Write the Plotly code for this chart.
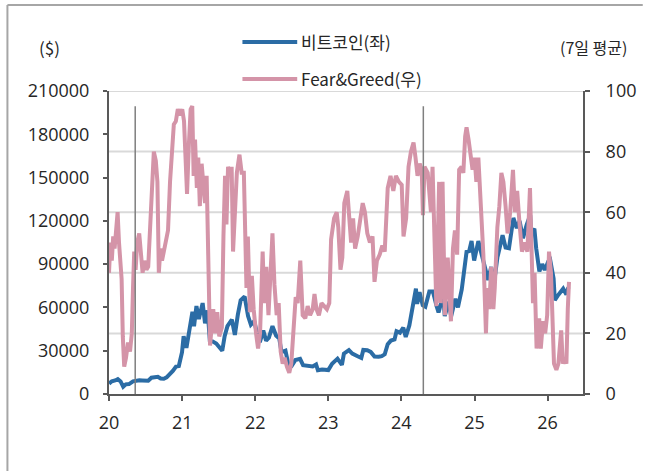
import plotly.graph_objects as go

# ---------------- data ----------------
btc_dates = [
    "2020-01-01", "2020-01-15", "2020-02-01", "2020-02-14", "2020-02-28", "2020-03-12", "2020-03-25",
    "2020-04-10", "2020-04-30", "2020-05-15", "2020-06-01", "2020-06-15", "2020-07-01", "2020-07-15",
    "2020-07-31", "2020-08-15", "2020-09-01", "2020-09-15", "2020-10-01", "2020-10-15", "2020-11-01",
    "2020-11-15", "2020-12-01", "2020-12-15", "2020-12-31", "2021-01-08", "2021-01-22", "2021-02-08",
    "2021-02-21", "2021-03-01", "2021-03-13", "2021-03-25", "2021-04-13", "2021-04-25", "2021-05-08",
    "2021-05-19", "2021-06-01", "2021-06-20", "2021-07-01", "2021-07-20", "2021-08-01", "2021-08-15",
    "2021-09-06", "2021-09-21", "2021-10-06", "2021-10-20", "2021-11-09", "2021-11-26", "2021-12-10",
    "2021-12-27", "2022-01-10", "2022-01-24", "2022-02-10", "2022-02-24", "2022-03-10", "2022-03-28",
    "2022-04-15", "2022-05-01", "2022-05-12", "2022-06-01", "2022-06-18", "2022-07-01", "2022-07-20",
    "2022-08-13", "2022-08-28", "2022-09-15", "2022-10-01", "2022-10-15", "2022-11-01", "2022-11-10",
    "2022-12-01", "2022-12-20", "2023-01-01", "2023-01-20", "2023-02-16", "2023-03-10", "2023-03-20",
    "2023-04-14", "2023-05-01", "2023-05-25", "2023-06-15", "2023-06-25", "2023-07-15", "2023-08-01",
    "2023-08-20", "2023-09-10", "2023-09-25", "2023-10-10", "2023-10-25", "2023-11-10", "2023-11-28",
    "2023-12-08", "2023-12-25", "2024-01-11", "2024-01-23", "2024-02-10", "2024-02-28", "2024-03-14",
    "2024-03-20", "2024-04-01", "2024-04-17", "2024-04-30", "2024-05-20", "2024-06-07", "2024-06-25",
    "2024-07-05", "2024-07-29", "2024-08-05", "2024-08-25", "2024-09-06", "2024-09-27", "2024-10-10",
    "2024-10-29", "2024-11-12", "2024-11-22", "2024-12-05", "2024-12-17", "2024-12-30", "2025-01-20",
    "2025-02-05", "2025-02-27", "2025-03-10", "2025-03-25", "2025-04-08", "2025-04-25", "2025-05-21",
    "2025-06-05", "2025-06-22", "2025-07-14", "2025-07-31", "2025-08-14", "2025-08-31", "2025-09-18",
    "2025-10-06", "2025-10-11", "2025-10-27", "2025-11-05", "2025-11-21", "2025-12-05", "2025-12-18",
    "2026-01-05", "2026-01-14", "2026-01-31", "2026-02-06", "2026-02-20", "2026-03-05", "2026-03-20",
    "2026-04-05", "2026-04-15",
]
btc_values = [
    7200, 8800, 9400, 10300, 8700, 5000, 6700,
    6900, 8800, 9400, 9500, 9400, 9200, 9200,
    11300, 11800, 11900, 10700, 10600, 11500, 13700,
    16000, 19000, 19400, 29000, 40000, 32000, 46000,
    57000, 47000, 61000, 52000, 63000, 49000, 58000,
    37000, 36500, 35000, 33500, 30000, 40000, 47000,
    51500, 41000, 55000, 65000, 67500, 54000, 48000,
    50500, 42000, 36000, 44000, 37000, 39000, 47000,
    40500, 38500, 29000, 30000, 19000, 19300, 23500,
    24400, 20000, 19700, 19300, 19100, 20500, 16500,
    17000, 16800, 16600, 21000, 24500, 20200, 28000,
    30400, 28000, 26300, 25000, 30500, 30300, 29200,
    26000, 25800, 26200, 27500, 34500, 37000, 37800,
    43500, 42500, 46000, 39500, 47500, 62500, 73000,
    62500, 70500, 61500, 60500, 71000, 71000, 61000,
    56500, 68500, 54000, 64000, 53900, 66000, 60000,
    72500, 88000, 98500, 99000, 106000, 92500, 106000,
    97000, 84000, 79000, 88000, 76500, 94500, 110000,
    101500, 101000, 122000, 115000, 120000, 108000, 117000,
    124000, 112000, 114500, 101000, 85000, 90000, 86000,
    92000, 93000, 80000, 65000, 68000, 70000, 73000,
    69000, 74000,
]

fg_dates = [
    "2020-01-01", "2020-01-08", "2020-01-15", "2020-01-22", "2020-01-29", "2020-02-05", "2020-02-13",
    "2020-02-20", "2020-02-27", "2020-03-04", "2020-03-10", "2020-03-17", "2020-03-26", "2020-04-05",
    "2020-04-15", "2020-04-24", "2020-04-30", "2020-05-06", "2020-05-13", "2020-05-21", "2020-05-31",
    "2020-06-08", "2020-06-17", "2020-06-26", "2020-07-06", "2020-07-15", "2020-07-25", "2020-08-03",
    "2020-08-12", "2020-08-22", "2020-08-30", "2020-09-06", "2020-09-14", "2020-09-22", "2020-10-02",
    "2020-10-12", "2020-10-22", "2020-11-01", "2020-11-10", "2020-11-20", "2020-11-30", "2020-12-10",
    "2020-12-22", "2021-01-01", "2021-01-10", "2021-01-17", "2021-01-25", "2021-02-03", "2021-02-12",
    "2021-02-20", "2021-02-27", "2021-03-06", "2021-03-15", "2021-03-22", "2021-03-30", "2021-04-08",
    "2021-04-18", "2021-04-25", "2021-05-03", "2021-05-12", "2021-05-20", "2021-05-28", "2021-06-05",
    "2021-06-15", "2021-06-25", "2021-07-05", "2021-07-18", "2021-07-26", "2021-08-03", "2021-08-10",
    "2021-08-18", "2021-08-28", "2021-09-05", "2021-09-12", "2021-09-20", "2021-10-01", "2021-10-14",
    "2021-10-25", "2021-11-05", "2021-11-18", "2021-11-25", "2021-12-05", "2021-12-15", "2021-12-24",
    "2022-01-05", "2022-01-15", "2022-01-25", "2022-02-07", "2022-02-15", "2022-02-25", "2022-03-08",
    "2022-03-18", "2022-03-28", "2022-04-07", "2022-04-18", "2022-04-28", "2022-05-08", "2022-05-18",
    "2022-05-28", "2022-06-08", "2022-06-20", "2022-06-30", "2022-07-12", "2022-07-22", "2022-08-01",
    "2022-08-14", "2022-08-26", "2022-09-08", "2022-09-20", "2022-10-02", "2022-10-15", "2022-10-24",
    "2022-11-03", "2022-11-15", "2022-11-28", "2022-12-10", "2022-12-25", "2023-01-06", "2023-01-15",
    "2023-01-30", "2023-02-12", "2023-02-20", "2023-03-03", "2023-03-12", "2023-03-22", "2023-04-06",
    "2023-04-14", "2023-04-25", "2023-05-05", "2023-05-15", "2023-05-28", "2023-06-08", "2023-06-22",
    "2023-07-03", "2023-07-15", "2023-07-28", "2023-08-10", "2023-08-20", "2023-09-01", "2023-09-15",
    "2023-09-28", "2023-10-10", "2023-10-25", "2023-11-08", "2023-11-22", "2023-12-05", "2023-12-20",
    "2024-01-03", "2024-01-12", "2024-01-25", "2024-02-06", "2024-02-18", "2024-03-02", "2024-03-12",
    "2024-03-22", "2024-04-02", "2024-04-12", "2024-04-18", "2024-04-26", "2024-05-12", "2024-05-28",
    "2024-06-05", "2024-06-12", "2024-06-24", "2024-07-08", "2024-07-15", "2024-07-25", "2024-08-06",
    "2024-08-20", "2024-09-05", "2024-09-15", "2024-09-25", "2024-10-06", "2024-10-16", "2024-10-28",
    "2024-11-06", "2024-11-15", "2024-11-22", "2024-12-02", "2024-12-12", "2024-12-22", "2025-01-01",
    "2025-01-10", "2025-01-20", "2025-01-28", "2025-02-05", "2025-02-14", "2025-02-27", "2025-03-06",
    "2025-03-15", "2025-03-25", "2025-04-05", "2025-04-12", "2025-04-25", "2025-05-05", "2025-05-15",
    "2025-05-25", "2025-06-05", "2025-06-15", "2025-06-28", "2025-07-12", "2025-07-22", "2025-08-02",
    "2025-08-14", "2025-08-26", "2025-09-08", "2025-09-22", "2025-10-05", "2025-10-12", "2025-10-20",
    "2025-10-28", "2025-11-07", "2025-11-20", "2025-11-28", "2025-12-09", "2025-12-20", "2025-12-30",
    "2026-01-08", "2026-01-18", "2026-01-26", "2026-02-02", "2026-02-14", "2026-02-24", "2026-03-10",
    "2026-03-18", "2026-03-28", "2026-04-05", "2026-04-12", "2026-04-18",
]
fg_values = [
    40, 50, 44, 52, 48, 55, 60,
    50, 40, 38, 19, 9, 12, 17,
    14, 20, 35, 47, 41, 50, 53,
    46, 40, 44, 41, 42, 58, 72,
    80, 77, 70, 40, 48, 44, 47,
    51, 54, 70, 82, 89, 90, 94,
    92, 94, 90, 75, 66, 82, 94,
    95, 72, 84, 68, 78, 62, 76,
    70, 63, 72, 43, 16, 22, 28,
    20, 27, 19, 22, 52, 72, 56,
    75, 72, 75, 47, 60, 73, 79,
    73, 73, 35, 52, 27, 39, 28,
    20, 15, 20, 47, 30, 42, 26,
    40, 53, 36, 26, 30, 14, 10,
    12, 9, 7, 10, 20, 32, 30,
    44, 26, 25, 29, 26, 28, 33,
    28, 26, 30, 29, 28, 30, 51,
    58, 60, 55, 41, 45, 63, 67,
    60, 50, 58, 48, 52, 57, 63,
    60, 53, 50, 52, 37, 44, 46,
    49, 47, 68, 72, 67, 72, 70,
    69, 52, 58, 75, 80, 83, 78,
    72, 76, 74, 59, 75, 73, 60,
    75, 59, 29, 70, 30, 70, 26,
    45, 24, 48, 54, 46, 74, 75,
    73, 85, 88, 84, 80, 74, 78,
    70, 78, 67, 56, 46, 20, 35,
    28, 42, 28, 35, 55, 62, 73,
    70, 62, 53, 60, 74, 60, 67,
    56, 47, 50, 47, 68, 50, 30,
    40, 15, 25, 15, 24, 20, 26,
    47, 40, 20, 10, 8, 10, 21,
    10, 12, 10, 28, 37,
]

halving_dates = ["2020-05-11", "2024-04-20"]
x_tick_vals = ["2020-01-01", "2021-01-01", "2022-01-01", "2023-01-01",
               "2024-01-01", "2025-01-01", "2026-01-01"]
x_tick_text = ["20", "21", "22", "23", "24", "25", "26"]
left_ticks = [0, 30000, 60000, 90000, 120000, 150000, 180000, 210000]
right_ticks = [0, 20, 40, 60, 80, 100]

# ---------------- style ----------------
BLUE = "#2B6CA5"
PINK = "#D494A8"
AXIS = "#595959"
GRID = "#D9D9D9"
FONT = "Noto Sans CJK KR"
TICKFONT = dict(family="Open Sans", size=18, color="#262626")
W, H = 648, 471
ML, MR, MT, MB = 109, 63, 91, 77
PW = W - ML - MR
PH = H - MT - MB


def px(x):
    return (x - ML) / PW


def py(y):
    return (H - MB - y) / PH


fig = go.Figure()
fig.add_trace(go.Scatter(x=btc_dates, y=btc_values, mode="lines", name="비트코인(좌)",
                         line=dict(color=BLUE, width=4), yaxis="y", showlegend=False))
fig.add_trace(go.Scatter(x=fg_dates, y=fg_values, mode="lines", name="Fear&Greed(우)",
                         line=dict(color=PINK, width=4), yaxis="y2", showlegend=False))

shapes = []
for v in right_ticks[1:]:
    shapes.append(dict(type="line", xref="paper", yref="y2", x0=0, x1=1, y0=v, y1=v,
                       line=dict(color=GRID, width=2), layer="below"))
for d in halving_dates:
    shapes.append(dict(type="line", xref="x", yref="y2", x0=d, x1=d, y0=0, y1=95,
                       line=dict(color="#7F7F7F", width=1.5), layer="above"))
# outer frame (left and top edges)
shapes.append(dict(type="line", xref="paper", yref="paper", x0=px(7), x1=px(7), y0=py(5), y1=py(475),
                   line=dict(color="#A6A6A6", width=2)))
shapes.append(dict(type="line", xref="paper", yref="paper", x0=px(7), x1=px(645), y0=py(5), y1=py(5),
                   line=dict(color="#A6A6A6", width=2)))
# legend samples
shapes.append(dict(type="line", xref="paper", yref="paper", x0=px(243), x1=px(298), y0=py(42), y1=py(42),
                   line=dict(color=BLUE, width=4)))
shapes.append(dict(type="line", xref="paper", yref="paper", x0=px(243), x1=px(298), y0=py(79), y1=py(79),
                   line=dict(color=PINK, width=4)))

annotations = [
    dict(text="비트코인(좌)", xref="paper", yref="paper", x=px(300), y=py(42),
         xanchor="left", yanchor="middle", showarrow=False),
    dict(text="Fear&Greed(우)", xref="paper", yref="paper", x=px(300), y=py(79),
         xanchor="left", yanchor="middle", showarrow=False),
    dict(text="($)", xref="paper", yref="paper", x=px(49), y=py(47),
         xanchor="center", yanchor="middle", showarrow=False),
    dict(text="(7일 평균)", xref="paper", yref="paper", x=px(596), y=py(47),
         xanchor="center", yanchor="middle", showarrow=False, font=dict(size=16)),
]

fig.update_layout(
    width=W, height=H,
    margin=dict(l=ML, r=MR, t=MT, b=MB, pad=0),
    paper_bgcolor="white", plot_bgcolor="white",
    font=dict(family=FONT, size=17, color="#262626"),
    shapes=shapes, annotations=annotations,
    xaxis=dict(type="date", range=["2020-01-01", "2026-06-27"],
               tickmode="array", tickvals=x_tick_vals, ticktext=x_tick_text, tickfont=TICKFONT,
               showgrid=False, zeroline=False, showline=True, linecolor=AXIS, linewidth=2,
               ticks="outside", ticklen=5, tickwidth=2, tickcolor=AXIS, ticklabelstandoff=6),
    yaxis=dict(range=[0, 210000], tickmode="array", tickvals=left_ticks,
               ticktext=[str(v) for v in left_ticks], tickfont=TICKFONT,
               showgrid=False, zeroline=False, showline=True, linecolor=AXIS, linewidth=2,
               ticks="outside", ticklen=4, tickwidth=2, tickcolor=AXIS, ticklabelstandoff=10),
    yaxis2=dict(range=[0, 100], overlaying="y", side="right", tickmode="array",
                tickvals=right_ticks, ticktext=[str(v) for v in right_ticks], tickfont=TICKFONT,
                showgrid=False, zeroline=False, showline=True, linecolor=AXIS, linewidth=2,
                ticks="outside", ticklen=5, tickwidth=2, tickcolor=AXIS, ticklabelstandoff=12),
)

fig.write_html("out.html", config={"displayModeBar": False},
               post_script="document.body.style.margin='0';")
